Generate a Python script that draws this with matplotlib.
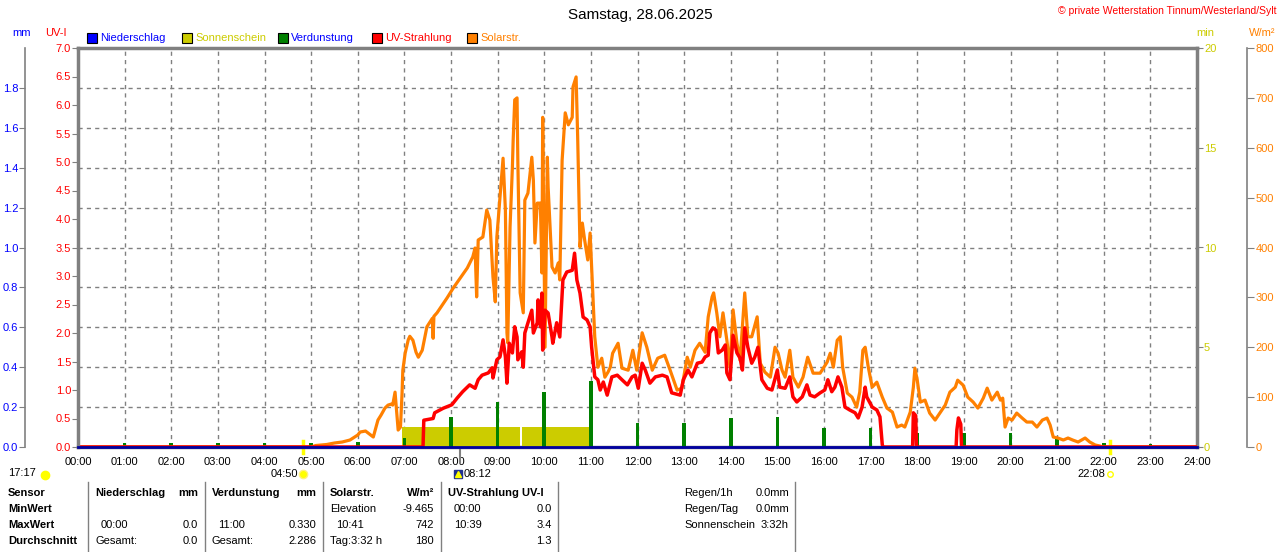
import matplotlib
matplotlib.use('Agg')
import matplotlib.pyplot as plt
from matplotlib.patches import Rectangle
from matplotlib.lines import Line2D

plt.rcParams['font.family'] = ['Liberation Sans', 'DejaVu Sans']
plt.rcParams['font.size'] = 8

# Solarstrahlung (W/m²)
solar_times = [
    "00:00", "05:00", "05:06", "05:20", "05:30", "05:40", "05:50", "06:00", "06:03", "06:10",
    "06:15", "06:20", "06:26", "06:30", "06:35", "06:39", "06:43", "06:45", "06:48", "06:52",
    "06:55", "06:57", "06:58", "07:01", "07:05", "07:07", "07:11", "07:15", "07:18", "07:23",
    "07:29", "07:36", "07:37", "07:38", "07:42", "07:55", "08:03", "08:12", "08:21", "08:28",
    "08:31", "08:33", "08:35", "08:41", "08:46", "08:50", "08:54", "08:57", "08:59", "09:03",
    "09:07", "09:10", "09:12", "09:13", "09:16", "09:19", "09:20", "09:22", "09:25", "09:26",
    "09:29", "09:33", "09:35", "09:39", "09:44", "09:46", "09:48", "09:51", "09:55", "09:57",
    "09:58", "10:01", "10:04", "10:05", "10:10", "10:14", "10:18", "10:20", "10:23", "10:27",
    "10:31", "10:36", "10:37", "10:41", "10:43", "10:46", "10:49", "10:52", "10:56", "10:59",
    "11:01", "11:03", "11:05", "11:09", "11:14", "11:18", "11:22", "11:25", "11:28", "11:35",
    "11:40", "11:48", "11:54", "11:59", "12:06", "12:12", "12:19", "12:26", "12:35", "12:42",
    "12:51", "12:57", "13:04", "13:08", "13:14", "13:20", "13:27", "13:31", "13:36", "13:38",
    "13:42", "13:46", "13:50", "13:55", "13:59", "14:03", "14:08", "14:12", "14:18", "14:22",
    "14:27", "14:34", "14:38", "14:44", "14:51", "14:57", "15:01", "15:06", "15:10", "15:16",
    "15:20", "15:27", "15:33", "15:39", "15:46", "15:55", "16:04", "16:08", "16:12", "16:17",
    "16:21", "16:24", "16:30", "16:36", "16:42", "16:46", "16:50", "16:53", "16:57", "17:02",
    "17:08", "17:15", "17:21", "17:28", "17:34", "17:40", "17:44", "17:51", "17:55", "17:57",
    "18:00", "18:04", "18:10", "18:16", "18:23", "18:29", "18:36", "18:42", "18:49", "18:52",
    "18:59", "19:05", "19:12", "19:18", "19:25", "19:30", "19:36", "19:43", "19:47", "19:50",
    "19:53", "19:57", "20:02", "20:08", "20:15", "20:21", "20:28", "20:34", "20:41", "20:47",
    "20:51", "20:55", "21:01", "21:08", "21:14", "21:20", "21:27", "21:36", "21:42", "21:49",
    "21:55", "21:59", "24:00",
]
solar_wm2 = [
    0, 0, 3, 5, 8, 10, 14, 24, 30, 32,
    26, 20, 54, 64, 78, 84, 86, 84, 110, 34,
    40, 108, 154, 188, 215, 222, 214, 190, 180, 194,
    241, 258, 218, 262, 269, 299, 319, 339, 359, 381,
    399, 301, 415, 421, 475, 455, 341, 291, 421, 501,
    579, 475, 229, 209, 441, 561, 615, 696, 700, 575,
    309, 269, 495, 509, 581, 535, 409, 489, 489, 349,
    661, 200, 581, 521, 361, 349, 369, 335, 575, 670,
    646, 661, 722, 742, 622, 401, 449, 415, 375, 429,
    361, 290, 221, 160, 178, 140, 150, 160, 188, 208,
    158, 154, 194, 154, 229, 200, 154, 178, 184, 154,
    114, 118, 180, 160, 194, 208, 190, 261, 301, 309,
    269, 221, 269, 214, 160, 275, 208, 174, 309, 221,
    221, 261, 168, 150, 140, 200, 188, 154, 140, 194,
    140, 120, 140, 180, 148, 148, 170, 188, 160, 214,
    221, 160, 108, 100, 80, 110, 194, 200, 160, 120,
    130, 100, 78, 70, 40, 44, 40, 70, 120, 158,
    134, 90, 94, 68, 54, 68, 84, 110, 120, 134,
    124, 100, 90, 78, 98, 118, 94, 110, 94, 98,
    40, 58, 54, 68, 58, 50, 50, 40, 54, 58,
    44, 20, 18, 14, 18, 14, 10, 18, 10, 4,
    2, 0, 0,
]

# UV-Strahlung (UV-I)
uv_times = [
    "00:00", "07:24", "07:25", "07:37", "07:39", "07:50", "08:01", "08:08", "08:15", "08:24",
    "08:31", "08:35", "08:40", "08:48", "08:53", "08:54", "08:59", "09:03", "09:07", "09:10",
    "09:12", "09:15", "09:19", "09:22", "09:25", "09:26", "09:31", "09:33", "09:35", "09:39",
    "09:44", "09:46", "09:51", "09:52", "09:55", "09:57", "09:58", "10:01", "10:05", "10:10",
    "10:11", "10:16", "10:20", "10:23", "10:24", "10:29", "10:36", "10:39", "10:42", "10:46",
    "10:50", "10:55", "10:59", "11:01", "11:05", "11:09", "11:12", "11:16", "11:21", "11:27",
    "11:34", "11:40", "11:47", "11:53", "11:57", "12:01", "12:06", "12:10", "12:16", "12:23",
    "12:32", "12:38", "12:44", "12:55", "12:59", "13:05", "13:10", "13:17", "13:23", "13:27",
    "13:31", "13:33", "13:37", "13:41", "13:44", "13:49", "13:53", "13:55", "13:59", "14:03",
    "14:08", "14:12", "14:15", "14:18", "14:22", "14:27", "14:31", "14:35", "14:40", "14:47",
    "14:53", "15:00", "15:03", "15:10", "15:16", "15:20", "15:25", "15:32", "15:38", "15:42",
    "15:48", "15:55", "16:01", "16:05", "16:10", "16:14", "16:18", "16:23", "16:27", "16:33",
    "16:40", "16:44", "16:49", "16:53", "16:55", "17:02", "17:08", "17:12", "17:15", "17:16",
    "17:54", "17:55", "17:58", "17:59", "18:50", "18:51", "18:53", "18:56", "18:57", "24:00",
]
uv_index = [
    0, 0, 0.47, 0.50, 0.60, 0.68, 0.74, 0.86, 0.97, 1.09,
    1.03, 1.18, 1.26, 1.30, 1.39, 1.21, 1.53, 1.58, 1.88, 1.58,
    1.12, 1.82, 1.65, 2.11, 1.93, 1.53, 1.67, 1.40, 2.00, 2.18,
    2.40, 2.00, 2.18, 2.58, 2.11, 2.70, 1.70, 2.40, 2.35, 1.93,
    1.82, 2.18, 1.93, 2.70, 2.93, 3.07, 3.10, 3.40, 2.93, 2.70,
    2.28, 2.23, 2.11, 1.75, 1.23, 1.18, 1.00, 1.14, 0.91, 1.23,
    1.26, 1.18, 1.09, 1.23, 1.26, 1.03, 1.47, 1.35, 1.12, 1.23,
    1.26, 1.23, 0.95, 0.91, 1.18, 1.35, 1.23, 1.47, 1.49, 1.58,
    1.61, 2.00, 2.09, 2.05, 1.65, 1.70, 1.79, 1.30, 1.18, 1.96,
    1.65, 1.56, 1.35, 2.09, 1.75, 1.47, 1.58, 1.75, 1.18, 1.03,
    1.00, 1.35, 1.05, 1.03, 1.23, 0.88, 0.79, 0.88, 1.09, 0.91,
    0.88, 0.95, 1.00, 1.18, 0.97, 1.05, 1.23, 1.05, 0.70, 0.65,
    0.60, 0.51, 0.70, 1.05, 0.88, 0.70, 0.65, 0.53, 0.04, 0,
    0, 0.60, 0.55, 0, 0, 0.30, 0.51, 0.40, 0, 0,
]

# Verdunstung (mm) per hour
evap_times = ["01:00", "02:00", "03:00", "04:00", "05:00", "06:00", "07:00", "08:00",
              "09:00", "10:00", "11:00", "12:00", "13:00", "14:00", "15:00", "16:00",
              "17:00", "18:00", "19:00", "20:00", "21:00", "22:00", "23:00"]
evap_mm = [0.02, 0.02, 0.02, 0.02, 0.02, 0.025, 0.045, 0.15,
           0.225, 0.275, 0.33, 0.12, 0.12, 0.145, 0.15, 0.095,
           0.095, 0.07, 0.07, 0.07, 0.045, 0.02, 0.015]

# Sonnenschein (min) blocks
sun_start = ["06:57", "09:31"]
sun_end = ["09:29", "10:59"]
sun_min = [1.0, 1.0]

# Niederschlag (mm)
rain_times = ["00:00", "24:00"]
rain_mm = [0.0, 0.0]

sunrise = "04:50"
sunset = "22:08"
day_length = "17:17"
mark_time = "08:12"

hour_labels = ["%02d:00" % h for h in range(25)]
mm_ticks = [0.0, 0.2, 0.4, 0.6, 0.8, 1.0, 1.2, 1.4, 1.6, 1.8, 2.0]
uv_ticks = [0.0, 0.5, 1.0, 1.5, 2.0, 2.5, 3.0, 3.5, 4.0, 4.5, 5.0, 5.5, 6.0, 6.5, 7.0]
min_ticks = [0, 5, 10, 15, 20]
wm2_ticks = [0, 100, 200, 300, 400, 500, 600, 700, 800]


def hours(t):
    h, m = t.split(':')
    return int(h) + int(m) / 60


W, H = 1280, 552
GREY = '#808080'
ORANGE = '#FF8000'
RED = '#FF0000'
GREEN = '#008000'
YEL = '#CCCC00'
BLUE = '#0000FF'


def fx(x):
    return x / W


def fy(y):
    return 1 - y / H


fig = plt.figure(figsize=(12.8, 5.52), dpi=100)
L, R, B, T = 78, 1197, 447, 48
ax = fig.add_axes([fx(L), fy(B), (R - L) / W, (B - T) / H])

# base axes: mm scale, grid, frame
ax.set_xlim(0, 24)
ax.set_ylim(0, 2)
ax.set_xticks(range(25))
ax.set_xticklabels(hour_labels)
ax.set_yticks(mm_ticks[:-1])
ax.set_yticklabels(["%.1f" % v for v in mm_ticks[:-1]])
ax.grid(True, color=GREY, linestyle=(0, (3, 3)), linewidth=1)
ax.set_axisbelow(True)
ax.tick_params(axis='x', length=0, pad=7, labelsize=8)
ax.tick_params(axis='y', color=GREY, labelcolor=BLUE, length=4, pad=1, labelsize=8)
ax.spines['left'].set_position(('outward', 38))
ax.spines['left'].set_color(GREY)
ax.spines['left'].set_linewidth(1.2)
for s in ['top', 'bottom', 'right']:
    ax.spines[s].set_color(GREY)
    ax.spines[s].set_linewidth(2.5)

# Sonnenschein
ax_min = ax.twinx()
ax_min.set_ylim(0, 20)
ax_min.set_yticks(min_ticks)
ax_min.tick_params(axis='y', color=GREY, labelcolor=YEL, length=4, pad=1, labelsize=8)
for s in ax_min.spines.values():
    s.set_visible(False)
for s, e, v in zip(sun_start, sun_end, sun_min):
    ax_min.fill_between([hours(s), hours(e)], 0, v, color=YEL, lw=0)

# Verdunstung
ax_evap = ax.twinx()
ax_evap.set_ylim(0, 2)
ax_evap.axis('off')
ax_evap.bar([hours(t) for t in evap_times], evap_mm, width=0.08, color=GREEN)

# Solarstrahlung
ax_w = ax.twinx()
ax_w.set_ylim(0, 800)
ax_w.set_yticks(wm2_ticks)
ax_w.tick_params(axis='y', color=GREY, labelcolor=ORANGE, length=5, pad=1, labelsize=8)
for k, s in ax_w.spines.items():
    s.set_visible(k == 'right')
ax_w.spines['right'].set_position(('outward', 36))
ax_w.spines['right'].set_color(GREY)
ax_w.spines['right'].set_linewidth(1.2)
ax_w.plot([hours(t) for t in solar_times], solar_wm2, color=ORANGE, lw=2.3)

# UV-Strahlung
ax_uv = ax.twinx()
ax_uv.set_ylim(0, 7)
ax_uv.yaxis.tick_left()
ax_uv.set_yticks(uv_ticks)
ax_uv.set_yticklabels(["%.1f" % v for v in uv_ticks])
ax_uv.tick_params(axis='y', color=GREY, labelcolor=RED, length=4, pad=1, labelsize=8)
for k, s in ax_uv.spines.items():
    s.set_visible(k == 'left')
ax_uv.spines['left'].set_color(GREY)
ax_uv.spines['left'].set_linewidth(2.5)
ax_uv.plot([hours(t) for t in uv_times], uv_index, color=RED, lw=2.5)

# Niederschlag
ax_rain = ax.twinx()
ax_rain.set_ylim(0, 2)
ax_rain.axis('off')
ax_rain.plot([hours(t) for t in rain_times], rain_mm, color='#0000A0', lw=2, clip_on=False)

# sunrise / sunset marks under the x axis
xt = ax.get_xaxis_transform()
for t in [sunrise, sunset]:
    ax.plot([hours(t)] * 2, [0.015, -0.015], color='#FFFF00', lw=2.5, transform=xt, clip_on=False)
ax.plot([hours(mark_time)] * 2, [0, -0.04], color=GREY, lw=1.5, transform=xt, clip_on=False)
ax.annotate(sunrise, xy=(hours(sunrise), 0), xycoords=xt, xytext=(-5, -27),
            textcoords='offset pixels', ha='right', va='center', fontsize=8)
ax.plot([hours(sunrise)], [-0.068], marker='o', ms=6, color='#FFFF00', mec='#FFF080',
        transform=xt, clip_on=False)
ax.annotate(sunset, xy=(hours(sunset), 0), xycoords=xt, xytext=(-5, -27),
            textcoords='offset pixels', ha='right', va='center', fontsize=8)
ax.plot([hours(sunset)], [-0.068], marker='o', ms=4, mfc='none', mec='#FFFF00',
        transform=xt, clip_on=False)
ax.annotate(mark_time, xy=(hours(mark_time), 0), xycoords=xt, xytext=(3, -27),
            textcoords='offset pixels', ha='left', va='center', fontsize=8)
ax.plot([hours(mark_time) - 0.06], [-0.068], marker='s', ms=6, color='#203090',
        transform=xt, clip_on=False)
ax.plot([hours(mark_time) - 0.06], [-0.068], marker='^', ms=4, color='#FFFF00',
        transform=xt, clip_on=False)
fig.text(fx(8), fy(473), day_length, ha='left', va='center', fontsize=8)
fig.add_artist(Line2D([fx(45)], [fy(475)], marker='o', ms=6, color='#FFFF00',
                      transform=fig.transFigure))

# titles and unit labels
fig.text(0.5, fy(15), "Samstag, 28.06.2025", ha='center', va='center', fontsize=11)
fig.text(fx(1277), fy(11), "© private Wetterstation Tinnum/Westerland/Sylt",
         ha='right', va='center', fontsize=7.5, color=RED)
fig.text(fx(22), fy(33), "mm", ha='center', va='center', color=BLUE)
fig.text(fx(56), fy(33), "UV-I", ha='center', va='center', color=RED)
fig.text(fx(1205), fy(33), "min", ha='center', va='center', color=YEL)
fig.text(fx(1262), fy(33), "W/m²", ha='center', va='center', color=ORANGE)

# legend
legend_items = [("Niederschlag", BLUE, BLUE, 87), ("Sonnenschein", YEL, YEL, 182),
                ("Verdunstung", GREEN, BLUE, 278), ("UV-Strahlung", RED, RED, 372),
                ("Solarstr.", ORANGE, ORANGE, 467)]
for name, fc, tc, x in legend_items:
    fig.add_artist(Rectangle((fx(x), fy(43)), 10 / W, 10 / H, facecolor=fc,
                             edgecolor='black', lw=0.8, transform=fig.transFigure))
    fig.text(fx(x + 13), fy(38), name, ha='left', va='center', color=tc, fontsize=8)

# table below the chart
for x in [88, 205, 323, 441, 558, 795]:
    fig.add_artist(Line2D([fx(x), fx(x)], [fy(482), fy(552)], color=GREY, lw=1,
                          transform=fig.transFigure))

rows_y = [493, 509, 525, 541]
left_col = ["Sensor", "MinWert", "MaxWert", "Durchschnitt"]
for y, txt in zip(rows_y, left_col):
    fig.text(fx(8), fy(y), txt, ha='left', va='center', fontweight='bold')

cells = [
    # (x, y, text, align, bold)
    (95, 493, "Niederschlag", 'left', True), (198, 493, "mm", 'right', True),
    (101, 525, "00:00", 'left', False), (198, 525, "0.0", 'right', False),
    (95, 541, "Gesamt:", 'left', False), (198, 541, "0.0", 'right', False),
    (212, 493, "Verdunstung", 'left', True), (316, 493, "mm", 'right', True),
    (218, 525, "11:00", 'left', False), (316, 525, "0.330", 'right', False),
    (212, 541, "Gesamt:", 'left', False), (316, 541, "2.286", 'right', False),
    (330, 493, "Solarstr.", 'left', True), (434, 493, "W/m²", 'right', True),
    (330, 509, "Elevation", 'left', False), (434, 509, "-9.465", 'right', False),
    (336, 525, "10:41", 'left', False), (434, 525, "742", 'right', False),
    (330, 541, "Tag:3:32 h", 'left', False), (434, 541, "180", 'right', False),
    (448, 493, "UV-Strahlung UV-I", 'left', True),
    (454, 509, "00:00", 'left', False), (552, 509, "0.0", 'right', False),
    (454, 525, "10:39", 'left', False), (552, 525, "3.4", 'right', False),
    (552, 541, "1.3", 'right', False),
    (684, 493, "Regen/1h", 'left', False), (789, 493, "0.0mm", 'right', False),
    (684, 509, "Regen/Tag", 'left', False), (789, 509, "0.0mm", 'right', False),
    (684, 525, "Sonnenschein", 'left', False), (789, 525, "3:32h", 'right', False),
]
for x, y, txt, ha, bold in cells:
    fig.text(fx(x), fy(y), txt, ha=ha, va='center',
             fontweight='bold' if bold else 'normal')

fig.savefig('out.png', dpi=100)
